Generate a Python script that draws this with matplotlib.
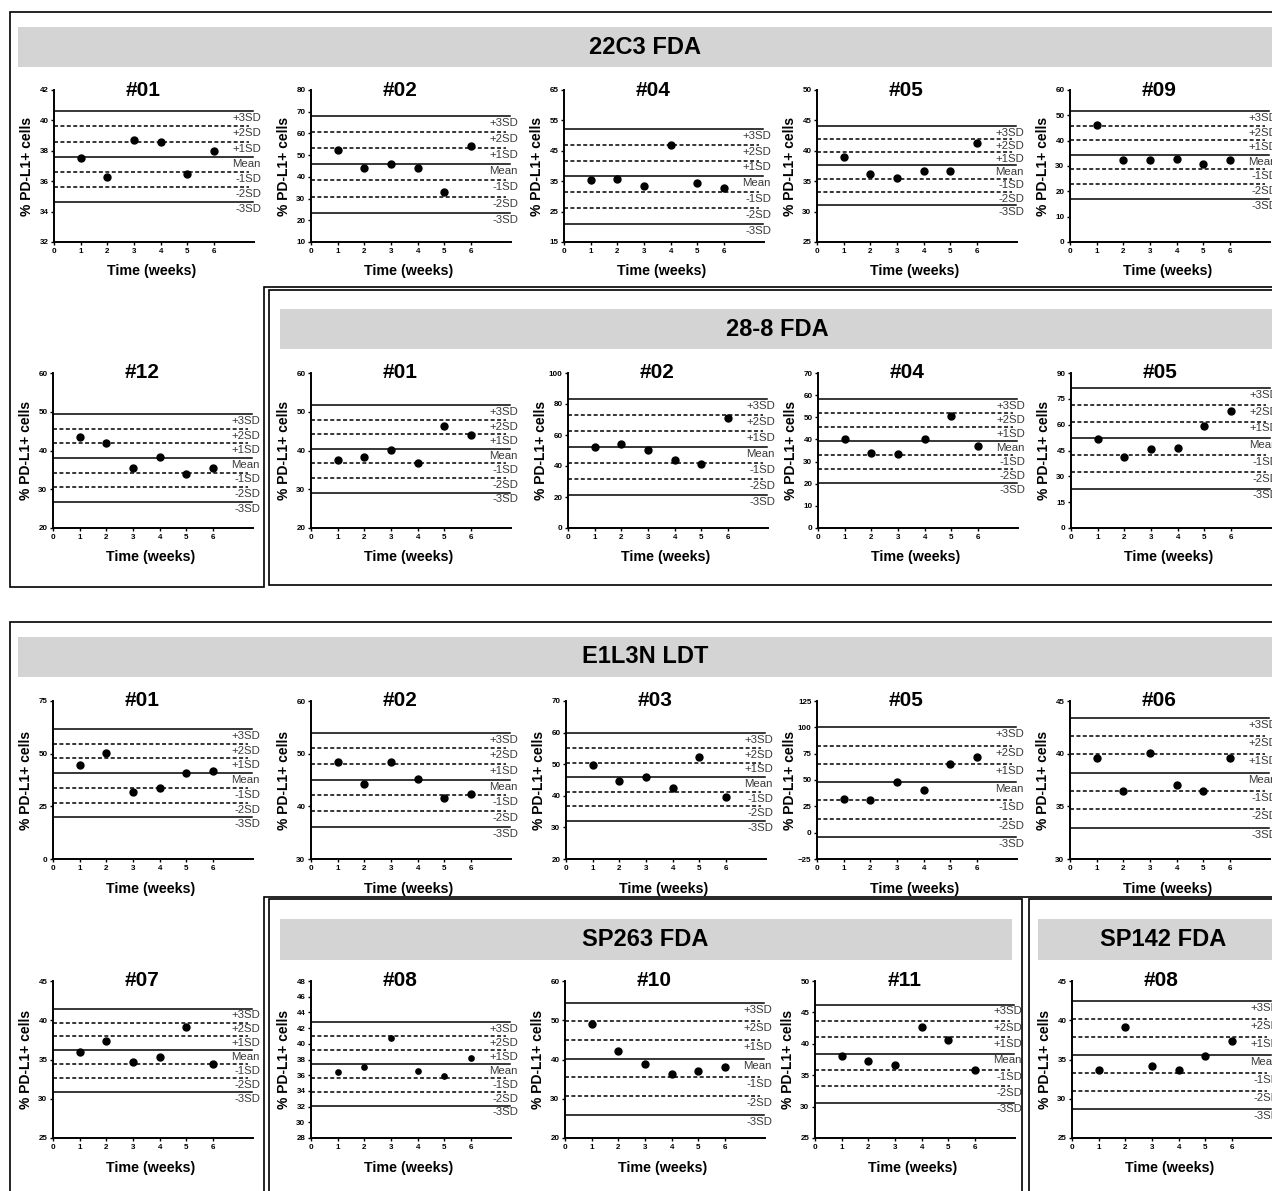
# Levey-Jennings style control charts of PD-L1 positivity per assay and sample

import numpy as np
import matplotlib
matplotlib.use("Agg")
import matplotlib.pyplot as plt
from matplotlib.lines import Line2D
from matplotlib.patches import Rectangle

plt.rcParams["font.family"] = ["Liberation Sans", "DejaVu Sans"]

# ── DATA ──────────────────────────────────────────────────────────────────────

WEEKS = [1, 2, 3, 4, 5, 6]
SD_STEPS = [3, 2, 1, 0, -1, -2, -3]
SD_NAMES = ["+3SD", "+2SD", "+1SD", "Mean", "-1SD", "-2SD", "-3SD"]

# 22C3 FDA
C22_IDS = ["#01", "#02", "#04", "#05", "#09", "#12"]
C22_MEAN = [37.6, 45.8, 36.55, 37.6, 34.4, 38.1]
C22_SD = [1.0, 7.45, 5.25, 2.16, 5.77, 3.78]
C22_VALUES = [
    [37.55, 36.3, 38.7, 38.55, 36.5, 38.0],
    [52.4, 44.0, 45.8, 44.0, 32.8, 54.0],
    [35.35, 35.7, 33.4, 46.8, 34.5, 32.9],
    [38.9, 36.2, 35.5, 36.7, 36.7, 41.35],
    [46.0, 32.35, 32.2, 32.75, 30.6, 32.35],
    [43.4, 42.0, 35.6, 38.3, 34.0, 35.6],
]
C22_YRANGE = [(32, 42, 2), (10, 80, 10), (15, 65, 10), (25, 50, 5), (0, 60, 10), (20, 60, 10)]

# 28-8 FDA
P28_IDS = ["#01", "#02", "#04", "#05"]
P28_MEAN = [40.4, 52.4, 39.3, 52.1]
P28_SD = [3.75, 10.35, 6.33, 9.73]
P28_VALUES = [
    [37.5, 38.4, 40.2, 36.8, 46.3, 44.0],
    [52.5, 54.2, 50.3, 43.9, 41.5, 71.0],
    [40.0, 34.0, 33.3, 40.1, 50.8, 37.0],
    [51.5, 41.3, 46.0, 46.7, 59.0, 67.9],
]
P28_YRANGE = [(20, 60, 10), (0, 100, 20), (0, 70, 10), (0, 90, 15)]

# E1L3N LDT
E13_IDS = ["#01", "#02", "#03", "#05", "#06", "#07"]
E13_MEAN = [40.75, 45.05, 45.9, 48.0, 38.2, 36.15]
E13_SD = [7.0, 2.98, 4.63, 17.33, 1.74, 1.78]
E13_VALUES = [
    [44.5, 50.5, 31.8, 33.8, 41.0, 42.0],
    [48.5, 44.2, 48.5, 45.2, 41.5, 42.4],
    [49.8, 44.8, 46.1, 42.6, 52.2, 39.6],
    [31.5, 31.2, 47.7, 40.2, 65.4, 71.6],
    [39.6, 36.5, 40.1, 37.0, 36.5, 39.6],
    [36.0, 37.4, 34.7, 35.3, 39.1, 34.45],
]
E13_YRANGE = [(0, 75, 25), (30, 60, 10), (20, 70, 10), (-25, 125, 25), (30, 45, 5), (25, 45, 5)]

# SP263 FDA
S263_IDS = ["#08", "#10", "#11"]
S263_MEAN = [37.45, 40.2, 38.45]
S263_SD = [1.77, 4.76, 2.6]
S263_VALUES = [
    [36.4, 37.1, 40.7, 36.5, 35.9, 38.2],
    [49.1, 42.2, 38.85, 36.4, 37.0, 38.2],
    [38.1, 37.3, 36.7, 42.6, 40.6, 35.8],
]
S263_YRANGE = [(28, 48, 2), (20, 60, 10), (25, 50, 5)]

# SP142 FDA
S142_IDS = ["#08"]
S142_MEAN = [35.6]
S142_SD = [2.3]
S142_VALUES = [[33.7, 39.2, 34.2, 33.6, 35.4, 37.3]]
S142_YRANGE = [(25, 45, 5)]

# ── LAYOUT (pixels) ───────────────────────────────────────────────────────────

W, H = 1272, 1191
fig = plt.figure(figsize=(W / 100, H / 100), dpi=100)

PANEL_W = 200
ROWS = [(90, 242), (373, 528), (701, 859), (981, 1138)]   # top / bottom of each plot row
GRAY = "#d4d4d4"


def px_rect(x0, y0, x1, y1):
    return [x0 / W, 1 - y1 / H, (x1 - x0) / W, (y1 - y0) / H]


def frame(xs, ys):
    fig.add_artist(Line2D([x / W for x in xs], [1 - y / H for y in ys],
                          transform=fig.transFigure, color="black", lw=1.2,
                          solid_joinstyle="miter"))


def banner(x0, y0, x1, y1, text, tx):
    fig.add_artist(Rectangle((x0 / W, 1 - y1 / H), (x1 - x0) / W, (y1 - y0) / H,
                             transform=fig.transFigure, facecolor=GRAY, edgecolor="none"))
    fig.text(tx / W, 1 - (y0 + y1) / 2 / H, text, ha="center", va="center",
             fontsize=17, fontweight="bold")


def control_panel(left, row, title, mean, sd, values, yrange, ms=5):
    top, bottom = ROWS[row]
    ax = fig.add_axes(px_rect(left, top, left + PANEL_W, bottom))
    lo, hi, step = yrange

    for k, name in zip(SD_STEPS, SD_NAMES):
        level = mean + k * sd
        if k in (0, 3, -3):
            ax.plot([0, 7.45], [level, level], color="black", lw=1.1)
        else:
            ax.plot([0, 7.3], [level, level], color="black", lw=1.1,
                    linestyle=(0, (2.6, 1.6)))
        ax.annotate(name, xy=(7.5, level), xycoords="data",
                    xytext=(5, -5), textcoords="offset points",
                    ha="right", va="center", fontsize=8.2, color="#3a3a3a",
                    annotation_clip=False)

    ax.plot(WEEKS, values, "o", color="black", ms=ms, clip_on=False, zorder=5)

    ax.set_xlim(0, 7.5)
    ax.set_ylim(lo, hi)
    ax.set_xticks(range(0, 7))
    ax.set_yticks(np.arange(lo, hi + step / 2, step))
    for lab in ax.get_xticklabels() + ax.get_yticklabels():
        lab.set_fontweight("bold")
    ax.tick_params(axis="both", direction="out", length=2.5, width=1.0,
                   labelsize=5.8, pad=1.5)

    for side in ("top", "right"):
        ax.spines[side].set_visible(False)
    for side in ("left", "bottom"):
        ax.spines[side].set_linewidth(1.4)

    ax.set_ylabel("% PD-L1+ cells", fontsize=10, fontweight="bold")
    ax.set_xlabel("Time (weeks)", fontsize=10.3, fontweight="bold")
    ax.yaxis.set_label_coords(-0.10, 0.5)
    ax.xaxis.set_label_coords(0.49, -0.145)

    ax.text(3.35 / 7.5, 1.0, title, transform=ax.transAxes, ha="center",
            va="center", fontsize=15, fontweight="bold")
    ax.patch.set_alpha(0)
    return ax


# ── BOXES AND HEADERS ─────────────────────────────────────────────────────────

# 22C3 block (L-shaped), with the 28-8 block nested at lower right
frame([1290, 10, 10, 264, 264, 1290], [12, 12, 587, 587, 287, 287])
frame([1290, 269, 269, 1290], [290, 290, 585, 585])
banner(18, 27, 1290, 67, "22C3 FDA", 645)
banner(280, 309, 1290, 349, "28-8 FDA", 777)

# E1L3N block (L-shaped), with SP263 and SP142 blocks nested below
frame([1290, 10, 10], [622, 622, 1200])
frame([264, 264, 1290], [1200, 897, 897])
frame([269, 269, 1022, 1022], [1200, 899, 899, 1200])
frame([1029, 1029, 1290], [1200, 899, 899])
banner(18, 637, 1290, 677, "E1L3N LDT", 645)
banner(280, 919, 1012, 960, "SP263 FDA", 645)
banner(1038, 919, 1290, 960, "SP142 FDA", 1163)

# ── PANELS ────────────────────────────────────────────────────────────────────

row1_left = [54, 311, 564, 817, 1070]
for i, left in enumerate(row1_left):
    control_panel(left, 0, C22_IDS[i], C22_MEAN[i], C22_SD[i], C22_VALUES[i], C22_YRANGE[i])
control_panel(53, 1, C22_IDS[5], C22_MEAN[5], C22_SD[5], C22_VALUES[5], C22_YRANGE[5])

row2_left = [311, 568, 818, 1071]
for i, left in enumerate(row2_left):
    control_panel(left, 1, P28_IDS[i], P28_MEAN[i], P28_SD[i], P28_VALUES[i], P28_YRANGE[i])

row3_left = [53, 311, 566, 817, 1070]
for i, left in enumerate(row3_left):
    control_panel(left, 2, E13_IDS[i], E13_MEAN[i], E13_SD[i], E13_VALUES[i], E13_YRANGE[i])
control_panel(53, 3, E13_IDS[5], E13_MEAN[5], E13_SD[5], E13_VALUES[5], E13_YRANGE[5])

# the SP263 #08 chart uses slightly smaller dots
row4_left = [311, 565, 815]
row4_ms = [3.8, 5, 5]
for i, left in enumerate(row4_left):
    control_panel(left, 3, S263_IDS[i], S263_MEAN[i], S263_SD[i], S263_VALUES[i],
                  S263_YRANGE[i], ms=row4_ms[i])
control_panel(1072, 3, S142_IDS[0], S142_MEAN[0], S142_SD[0], S142_VALUES[0], S142_YRANGE[0])

fig.savefig("out.png", dpi=100, facecolor="white")
